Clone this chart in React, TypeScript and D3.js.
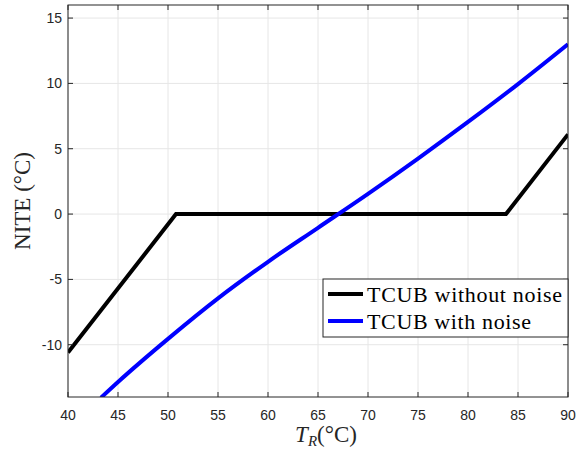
import React, { useRef, useEffect } from 'react';
import * as d3 from 'd3';

const xTicks = [40, 45, 50, 55, 60, 65, 70, 75, 80, 85, 90];
const yTicks = [-10, -5, 0, 5, 10, 15];
const seriesNames = ['TCUB without noise', 'TCUB with noise'];
const seriesColors = ['#000000', '#0000ff'];

// black: piecewise linear
const noNoiseT = [40, 50.8, 83.8, 90];
const noNoiseV = [-10.6, 0, 0, 6.1];

// blue: smooth, slightly S-shaped
const noiseT = [43.3, 45, 50, 55, 60, 65, 70, 75, 80, 85, 90];
const noiseV = [-14.05, -12.85, -9.55, -6.45, -3.65, -1.05, 1.55, 4.25, 7.05, 9.95, 13.0];

function App() {
    const chartRef = useRef(null);

    useEffect(() => {
        document.body.style.margin = '0';
        const width = 576;
        const height = 453;
        const m = { left: 68, right: 8, top: 5, bottom: 56 };
        const axisColor = '#262626';

        const x = d3.scaleLinear().domain([40, 90]).range([m.left, width - m.right]);
        const y = d3.scaleLinear().domain([-14, 16]).range([height - m.bottom, m.top]);

        const svg = d3.select(chartRef.current)
            .append('svg')
            .attr('width', width)
            .attr('height', height)
            .style('display', 'block')
            .style('background', '#fff');

        // grid
        svg.append('g').selectAll('line')
            .data(xTicks)
            .enter().append('line')
            .attr('x1', (d) => x(d)).attr('x2', (d) => x(d))
            .attr('y1', y(-14)).attr('y2', y(16))
            .attr('stroke', '#e6e6e6').attr('stroke-width', 1);
        svg.append('g').selectAll('line')
            .data(yTicks)
            .enter().append('line')
            .attr('y1', (d) => y(d)).attr('y2', (d) => y(d))
            .attr('x1', x(40)).attr('x2', x(90))
            .attr('stroke', '#e6e6e6').attr('stroke-width', 1);

        svg.append('clipPath').attr('id', 'plotclip')
            .append('rect')
            .attr('x', x(40)).attr('y', y(16))
            .attr('width', x(90) - x(40)).attr('height', y(-14) - y(16));

        const line = d3.line<[number, number]>()
            .x((d) => x(d[0]))
            .y((d) => y(d[1]));
        const curve = d3.line<[number, number]>()
            .x((d) => x(d[0]))
            .y((d) => y(d[1]))
            .curve(d3.curveMonotoneX);

        const plot = svg.append('g').attr('clip-path', 'url(#plotclip)');
        plot.append('path')
            .attr('d', line(noNoiseT.map((t, i) => [t, noNoiseV[i]] as [number, number])))
            .attr('fill', 'none')
            .attr('stroke', seriesColors[0])
            .attr('stroke-width', 4);
        plot.append('path')
            .attr('d', curve(noiseT.map((t, i) => [t, noiseV[i]] as [number, number])))
            .attr('fill', 'none')
            .attr('stroke', seriesColors[1])
            .attr('stroke-width', 4);

        // box
        svg.append('rect')
            .attr('x', x(40)).attr('y', y(16))
            .attr('width', x(90) - x(40)).attr('height', y(-14) - y(16))
            .attr('fill', 'none').attr('stroke', axisColor).attr('stroke-width', 1);

        // ticks (inside, all sides)
        const tl = 5;
        const tk = svg.append('g').attr('stroke', axisColor).attr('stroke-width', 1);
        xTicks.forEach((d) => {
            tk.append('line').attr('x1', x(d)).attr('x2', x(d)).attr('y1', y(-14)).attr('y2', y(-14) - tl);
            tk.append('line').attr('x1', x(d)).attr('x2', x(d)).attr('y1', y(16)).attr('y2', y(16) + tl);
        });
        yTicks.forEach((d) => {
            tk.append('line').attr('y1', y(d)).attr('y2', y(d)).attr('x1', x(40)).attr('x2', x(40) + tl);
            tk.append('line').attr('y1', y(d)).attr('y2', y(d)).attr('x1', x(90)).attr('x2', x(90) - tl);
        });

        // tick labels
        svg.append('g').selectAll('text')
            .data(xTicks)
            .enter().append('text')
            .attr('x', (d) => x(d))
            .attr('y', y(-14) + 23)
            .attr('text-anchor', 'middle')
            .style('font-family', 'Liberation Sans, Arial, sans-serif')
            .style('font-size', '14px')
            .attr('fill', axisColor)
            .text((d) => d);
        svg.append('g').selectAll('text')
            .data(yTicks)
            .enter().append('text')
            .attr('x', x(40) - 6)
            .attr('y', (d) => y(d))
            .attr('dy', '0.35em')
            .attr('text-anchor', 'end')
            .style('font-family', 'Liberation Sans, Arial, sans-serif')
            .style('font-size', '14px')
            .attr('fill', axisColor)
            .text((d) => d);

        // axis labels
        const xl = svg.append('text')
            .attr('x', 326)
            .attr('y', 442)
            .attr('text-anchor', 'middle')
            .style('font-family', 'Liberation Serif, serif')
            .style('font-size', '23px')
            .attr('fill', axisColor);
        xl.append('tspan').style('font-style', 'italic').text('T');
        xl.append('tspan').attr('dy', 4).style('font-size', '15px').style('font-style', 'italic').text('R');
        xl.append('tspan').attr('dy', -4).text('(°C)');

        svg.append('text')
            .attr('transform', `translate(30, ${(y(-14) + y(16)) / 2}) rotate(-90)`)
            .attr('text-anchor', 'middle')
            .style('font-family', 'Liberation Serif, serif')
            .style('font-size', '23px')
            .attr('fill', axisColor)
            .text('NITE (°C)');

        // legend
        const legendWidths = [195, 164];
        const lg = svg.append('g');
        lg.append('rect')
            .attr('x', 323).attr('y', 279)
            .attr('width', 245).attr('height', 58)
            .attr('fill', '#fff').attr('stroke', axisColor).attr('stroke-width', 1);
        seriesNames.forEach((name, i) => {
            const cy = 294 + i * 27;
            lg.append('line')
                .attr('x1', 328).attr('x2', 363)
                .attr('y1', cy).attr('y2', cy)
                .attr('stroke', seriesColors[i]).attr('stroke-width', 4);
            lg.append('text')
                .attr('x', 367).attr('y', cy)
                .attr('dy', '0.35em')
                .attr('textLength', legendWidths[i])
                .attr('lengthAdjust', 'spacing')
                .style('font-family', 'Liberation Serif, serif')
                .style('font-size', '22px')
                .attr('fill', '#000')
                .text(name);
        });

        return () => {
            svg.remove();
        };
    }, []);

    return <div ref={chartRef} style={{ width: 576, height: 453 }}></div>;
}

export default App;
